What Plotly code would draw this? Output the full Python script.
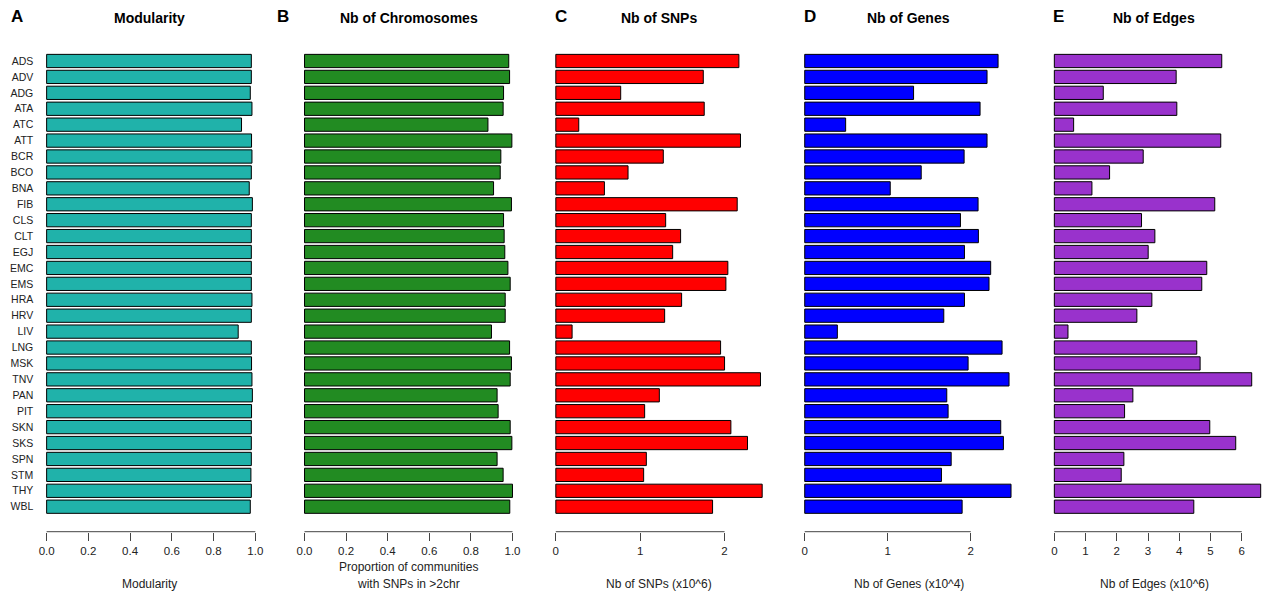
import plotly.graph_objects as go

# Tissues, top to bottom
tissues = ["ADS", "ADV", "ADG", "ATA", "ATC", "ATT", "BCR", "BCO", "BNA", "FIB",
           "CLS", "CLT", "EGJ", "EMC", "EMS", "HRA", "HRV", "LIV", "LNG", "MSK",
           "TNV", "PAN", "PIT", "SKN", "SKS", "SPN", "STM", "THY", "WBL"]

modularity = [0.981, 0.981, 0.976, 0.984, 0.934, 0.982, 0.984, 0.981, 0.971, 0.986,
              0.981, 0.981, 0.981, 0.981, 0.981, 0.984, 0.981, 0.918, 0.981, 0.982,
              0.984, 0.986, 0.982, 0.981, 0.981, 0.981, 0.979, 0.981, 0.976]

prop_chr = [0.982, 0.986, 0.957, 0.955, 0.882, 0.997, 0.944, 0.941, 0.909, 0.995,
            0.957, 0.960, 0.963, 0.978, 0.989, 0.965, 0.965, 0.899, 0.986, 0.995,
            0.989, 0.926, 0.931, 0.989, 0.997, 0.926, 0.955, 1.000, 0.987]

snps = [2.170, 1.748, 0.769, 1.759, 0.272, 2.189, 1.274, 0.856, 0.576, 2.150,
        1.302, 1.479, 1.385, 2.039, 2.016, 1.491, 1.290, 0.193, 1.953, 2.000,
        2.426, 1.227, 1.053, 2.075, 2.272, 1.073, 1.041, 2.446, 1.858]

genes = [2.329, 2.196, 1.311, 2.112, 0.493, 2.196, 1.920, 1.403, 1.030, 2.088,
         1.876, 2.092, 1.924, 2.240, 2.220, 1.924, 1.675, 0.393, 2.377, 1.968,
         2.461, 1.711, 1.727, 2.361, 2.393, 1.764, 1.647, 2.485, 1.896]

edges = [5.361, 3.901, 1.567, 3.922, 0.618, 5.329, 2.846, 1.769, 1.204, 5.137,
         2.792, 3.219, 3.005, 4.881, 4.721, 3.123, 2.643, 0.437, 4.561, 4.668,
         6.320, 2.515, 2.249, 4.977, 5.808, 2.227, 2.142, 6.608, 4.466]

ticks_prop = [0.0, 0.2, 0.4, 0.6, 0.8, 1.0]
ticks_prop_text = ["0.0", "0.2", "0.4", "0.6", "0.8", "1.0"]
ticks_012 = [0, 1, 2]
ticks_edges = [0, 1, 2, 3, 4, 5, 6]

W, H = 1266, 597
FONT = "Liberation Sans, Arial, Helvetica, sans-serif"


def px(x):
    return x / W


def py(y):
    return 1 - y / H


# panel definitions: values, colour, x range, domain in pixels, ticks, titles
panels = [
    dict(vals=modularity, color="#20B2AA", rng=[-0.04, 1.03], p0=46.7, k=209.0,
         tv=ticks_prop, tt=ticks_prop_text, title="Modularity", letter="A",
         letter_x=17, xlab=["Modularity"]),
    dict(vals=prop_chr, color="#228B22", rng=[-0.04, 1.04], p0=305.0, k=208.3,
         tv=ticks_prop, tt=ticks_prop_text, title="Nb of Chromosomes", letter="B",
         letter_x=283, xlab=["Proportion of communities", "with SNPs in >2chr"]),
    dict(vals=snps, color="#FF0000", rng=[-0.1, 2.55], p0=556.7, k=84.5,
         tv=ticks_012, tt=[str(t) for t in ticks_012], title="Nb of SNPs", letter="C",
         letter_x=562, xlab=["Nb of SNPs (x10^6)"]),
    dict(vals=genes, color="#0000FF", rng=[-0.1, 2.6], p0=806.0, k=83.15,
         tv=ticks_012, tt=[str(t) for t in ticks_012], title="Nb of Genes", letter="D",
         letter_x=811, xlab=["Nb of Genes (x10^4)"]),
    dict(vals=edges, color="#9932CC", rng=[-0.27, 6.68], p0=1056.0, k=31.28,
         tv=ticks_edges, tt=[str(t) for t in ticks_edges], title="Nb of Edges", letter="E",
         letter_x=1060, xlab=["Nb of Edges (x10^6)"]),
]

plot_top, plot_bottom = 36.0, 531.7
ydom = [py(plot_bottom), py(plot_top)]
n = len(tissues)
pad = 1.57

fig = go.Figure()
layout = dict(
    width=W, height=H, margin=dict(l=0, r=0, t=0, b=0),
    paper_bgcolor="white", plot_bgcolor="white", showlegend=False,
    bargap=1 / 6, font=dict(family=FONT, color="#222"),
)
shapes, annotations = [], []

for i, p in enumerate(panels):
    sfx = "" if i == 0 else str(i + 1)
    xa, ya = "x" + sfx, "y" + sfx
    left = p["p0"] + p["rng"][0] * p["k"]
    right = p["p0"] + p["rng"][1] * p["k"]
    right = min(right, W - 0.5)

    fig.add_trace(go.Bar(
        x=p["vals"], y=tissues, orientation="h",
        marker=dict(color=p["color"], line=dict(color="black", width=1)),
        xaxis=xa, yaxis=ya, hoverinfo="x+y",
    ))

    layout["xaxis" + sfx] = dict(
        domain=[px(left), px(right)], range=p["rng"], anchor=ya,
        showgrid=False, zeroline=False, showline=False,
        tickmode="array", tickvals=p["tv"], ticktext=p["tt"],
        ticks="outside", ticklen=8, tickwidth=1, tickcolor="#444",
        tickfont=dict(size=11.5, color="#222"), fixedrange=True,
    )
    layout["yaxis" + sfx] = dict(
        domain=ydom, anchor=xa, type="category", categoryarray=tissues,
        categoryorder="array", range=[n - 1 + pad, -pad],
        showgrid=False, zeroline=False, showline=False, ticks="",
        showticklabels=(i == 0), tickfont=dict(size=10.5, color="#222"),
        ticklabelstandoff=4, fixedrange=True,
    )

    # axis line spanning the tick range
    shapes.append(dict(type="line", xref=xa, yref="paper",
                       x0=p["tv"][0], x1=p["tv"][-1], y0=ydom[0], y1=ydom[0],
                       line=dict(color="#444", width=1)))

    cx = (left + p["p0"] + p["rng"][1] * p["k"]) / 2
    annotations.append(dict(text="<b>%s</b>" % p["title"], x=px(cx), y=py(18),
                            xref="paper", yref="paper", showarrow=False,
                            xanchor="center", yanchor="middle",
                            font=dict(size=14, color="black")))
    annotations.append(dict(text="<b>%s</b>" % p["letter"], x=px(p["letter_x"]), y=py(17),
                            xref="paper", yref="paper", showarrow=False,
                            xanchor="center", yanchor="middle",
                            font=dict(size=17, color="black")))
    if len(p["xlab"]) == 1:
        ys = [584]
    else:
        ys = [567, 584]
    for txt, yy in zip(p["xlab"], ys):
        annotations.append(dict(text=txt, x=px(cx), y=py(yy),
                                xref="paper", yref="paper", showarrow=False,
                                xanchor="center", yanchor="middle",
                                font=dict(size=12, color="#222")))

layout["shapes"] = shapes
layout["annotations"] = annotations
fig.update_layout(**layout)
fig.write_html("out.html")
